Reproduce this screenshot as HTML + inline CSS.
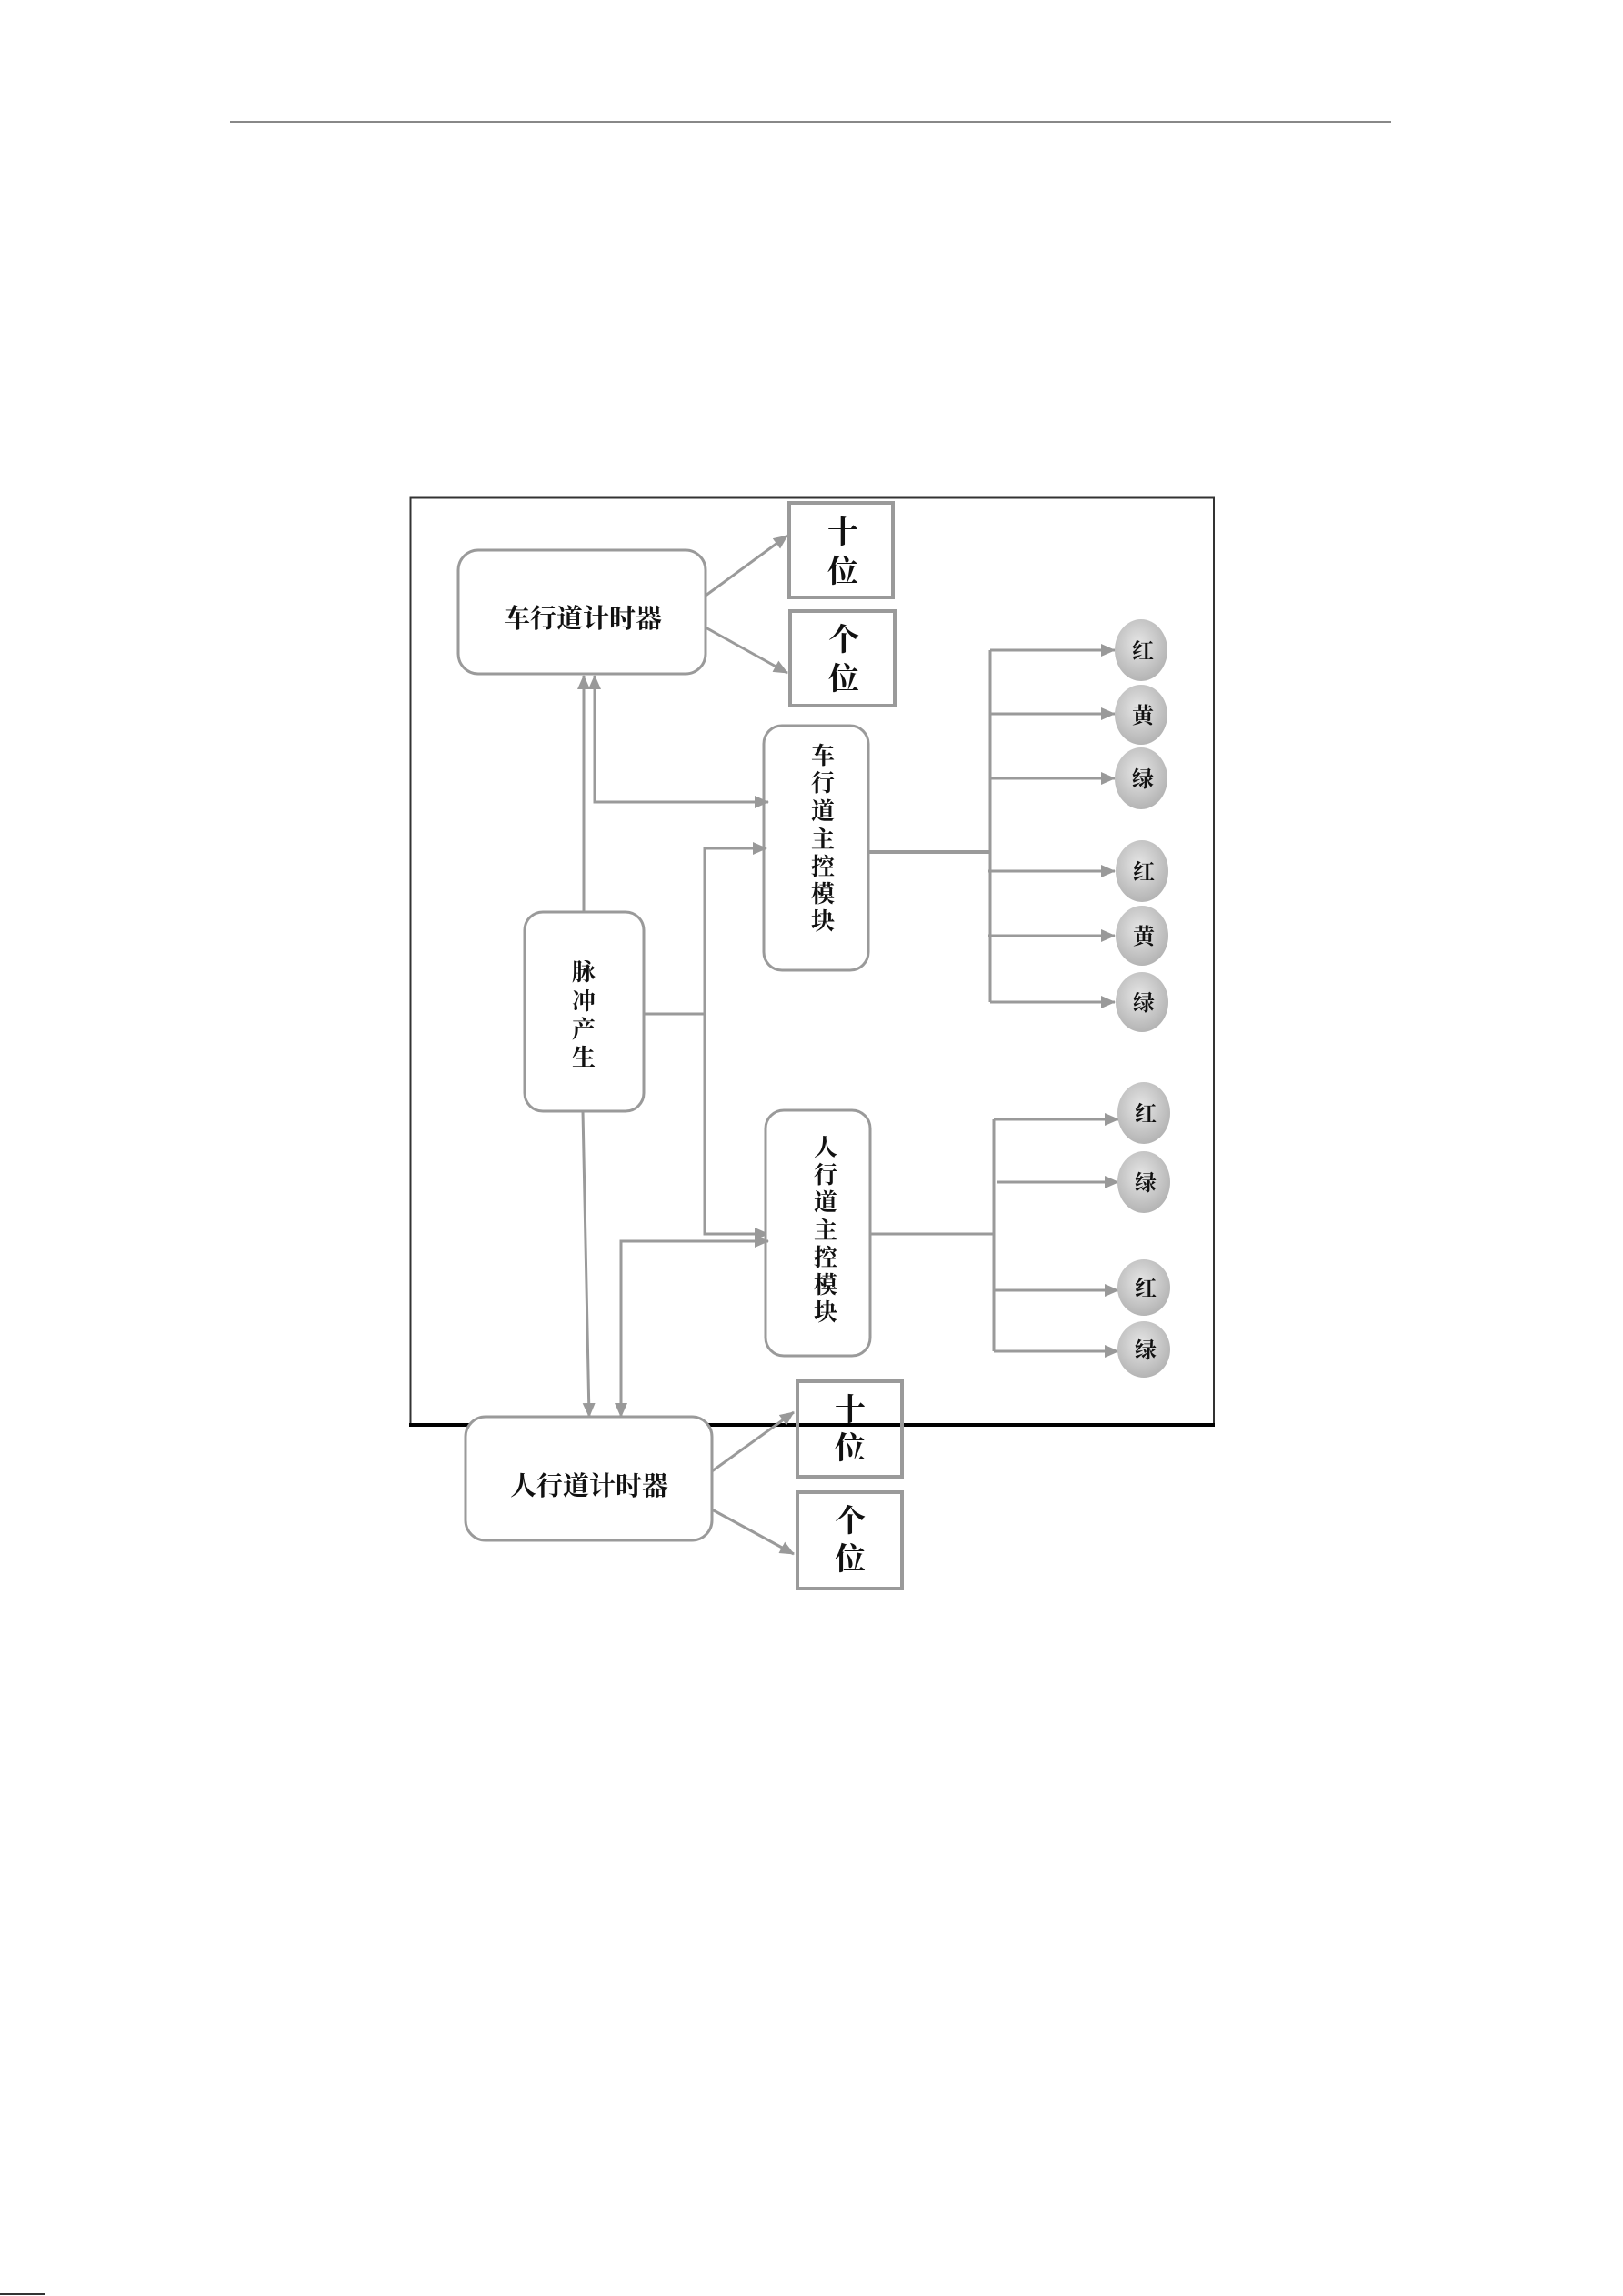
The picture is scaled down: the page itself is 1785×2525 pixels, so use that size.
<!DOCTYPE html>
<html><head><meta charset="utf-8"><style>
html,body{margin:0;padding:0;background:#fff;}
svg{display:block;}
text{font-family:"Liberation Serif","Noto Serif CJK SC",serif;font-weight:bold;fill:#111;}
</style></head><body>
<svg width="1785" height="2525" viewBox="0 0 1785 2525" xmlns="http://www.w3.org/2000/svg">
<defs>
<marker id="a" markerWidth="10" markerHeight="10" refX="9" refY="5" orient="auto" markerUnits="userSpaceOnUse" viewBox="0 0 10 10">
<path d="M0,0 L10,5 L0,10 z" fill="#999"/></marker>
<marker id="A" markerWidth="16" markerHeight="14" refX="15" refY="7" orient="auto" markerUnits="userSpaceOnUse" viewBox="0 0 16 14">
<path d="M0,0 L16,7 L0,14 z" fill="#999"/></marker>
<radialGradient id="g" cx="45%" cy="40%" r="60%"><stop offset="0" stop-color="#e6e6e6"/><stop offset="1" stop-color="#b4b4b4"/></radialGradient>
</defs>
<line x1="253" y1="134" x2="1530" y2="134" stroke="#888" stroke-width="2"/>
<line x1="0" y1="2523" x2="50" y2="2523" stroke="#333" stroke-width="2"/>
<!-- frame -->
<path d="M451.5,1568 L451.5,547.5 L1335,547.5 L1335,1568" fill="none" stroke="#333" stroke-width="2"/>
<line x1="450" y1="1567" x2="1336" y2="1567" stroke="#000" stroke-width="4"/>

<g fill="none" stroke="#9a9a9a" stroke-width="3">
<!-- top timer -->
<rect x="504" y="605" width="272" height="136" rx="22" fill="#fff"/>
<rect x="868" y="553" width="114" height="104" fill="#fff" stroke-width="4"/>
<rect x="869" y="672" width="115" height="104" fill="#fff" stroke-width="4"/>
<line x1="776" y1="655" x2="866" y2="589" marker-end="url(#A)"/>
<line x1="776" y1="690" x2="866" y2="740" marker-end="url(#A)"/>
<!-- car main -->
<rect x="840" y="798" width="115" height="269" rx="20" fill="#fff"/>
<!-- pulse -->
<rect x="577" y="1003" width="131" height="219" rx="20" fill="#fff"/>
<line x1="642" y1="1003" x2="642" y2="743" marker-end="url(#A)"/>
<polyline points="845,882 654,882 654,743" fill="none"/>
<line x1="654" y1="882" x2="654" y2="743" marker-end="url(#A)"/>
<line x1="800" y1="882" x2="845" y2="882" marker-end="url(#A)"/>
<polyline points="708,1115 775,1115 775,933 843,933" marker-end="url(#A)"/>
<polyline points="775,1115 775,1357 845,1357" marker-end="url(#A)"/>
<!-- ped main -->
<rect x="842" y="1221" width="115" height="270" rx="20" fill="#fff"/>
<polyline points="845,1365 683,1365 683,1558" marker-end="url(#A)"/>
<line x1="800" y1="1365" x2="845" y2="1365" marker-end="url(#A)"/>
<line x1="641" y1="1222" x2="648" y2="1558" marker-end="url(#A)"/>
<!-- ped timer -->
<rect x="512" y="1558" width="271" height="136" rx="22" fill="#fff"/>
<rect x="877" y="1519" width="115" height="105" fill="none" stroke-width="4"/>
<rect x="877" y="1641" width="115" height="106" fill="#fff" stroke-width="4"/>
<line x1="783" y1="1618" x2="873" y2="1553" marker-end="url(#A)"/>
<line x1="783" y1="1660" x2="873" y2="1709" marker-end="url(#A)"/>
<!-- car bus -->
<line x1="955" y1="937" x2="1089" y2="937" stroke-width="4"/>
<line x1="1089" y1="715" x2="1089" y2="1102"/>
<line x1="1089" y1="715" x2="1226" y2="715" marker-end="url(#A)"/>
<line x1="1089" y1="785" x2="1226" y2="785" marker-end="url(#A)"/>
<line x1="1089" y1="856" x2="1226" y2="856" marker-end="url(#A)"/>
<line x1="1087" y1="958" x2="1226" y2="958" marker-end="url(#A)"/>
<line x1="1087" y1="1029" x2="1226" y2="1029" marker-end="url(#A)"/>
<line x1="1089" y1="1102" x2="1226" y2="1102" marker-end="url(#A)"/>
<!-- ped bus -->
<line x1="957" y1="1357" x2="1093" y2="1357"/>
<line x1="1093" y1="1231" x2="1093" y2="1486"/>
<line x1="1093" y1="1231" x2="1230" y2="1231" marker-end="url(#A)"/>
<line x1="1097" y1="1300" x2="1230" y2="1300" marker-end="url(#A)"/>
<line x1="1093" y1="1419" x2="1230" y2="1419" marker-end="url(#A)"/>
<line x1="1093" y1="1486" x2="1230" y2="1486" marker-end="url(#A)"/>
</g>

<g fill="url(#g)">
<ellipse cx="1255" cy="715" rx="29" ry="34"/>
<ellipse cx="1255" cy="786" rx="29" ry="33"/>
<ellipse cx="1255" cy="856" rx="29" ry="34"/>
<ellipse cx="1256" cy="958" rx="29" ry="34"/>
<ellipse cx="1256" cy="1029" rx="29" ry="33"/>
<ellipse cx="1256" cy="1102" rx="29" ry="33"/>
<ellipse cx="1258" cy="1224" rx="29" ry="34"/>
<ellipse cx="1258" cy="1300" rx="29" ry="34"/>
<ellipse cx="1258" cy="1416" rx="29" ry="31"/>
<ellipse cx="1258" cy="1484" rx="29" ry="31"/>
</g>
<g font-size="24" text-anchor="middle">
<text x="1257" y="724">红</text>
<text x="1257" y="795">黄</text>
<text x="1257" y="865">绿</text>
<text x="1258" y="967">红</text>
<text x="1258" y="1038">黄</text>
<text x="1258" y="1111">绿</text>
<text x="1260" y="1233">红</text>
<text x="1260" y="1309">绿</text>
<text x="1260" y="1425">红</text>
<text x="1260" y="1493">绿</text>
</g>
<g font-size="29" text-anchor="middle">
<text x="641" y="690">车行道计时器</text>
<text x="648" y="1644">人行道计时器</text>
</g>
<g font-size="34" text-anchor="middle" font-weight="normal">
<text x="927" y="597">十</text><text x="927" y="640">位</text>
<text x="928" y="715">个</text><text x="928" y="758">位</text>
<text x="935" y="1562">十</text><text x="935" y="1604">位</text>
<text x="935" y="1684">个</text><text x="935" y="1726">位</text>
</g>
<g font-size="26" text-anchor="middle">
<text x="905" y="840">车</text><text x="905" y="870">行</text><text x="905" y="901">道</text><text x="905" y="932">主</text><text x="905" y="962">控</text><text x="905" y="992">模</text><text x="905" y="1022">块</text>
<text x="908" y="1271">人</text><text x="908" y="1301">行</text><text x="908" y="1331">道</text><text x="908" y="1362">主</text><text x="908" y="1392">控</text><text x="908" y="1422">模</text><text x="908" y="1452">块</text>
<text x="642" y="1078">脉</text><text x="642" y="1110">冲</text><text x="642" y="1141">产</text><text x="642" y="1172">生</text>
</g>
</svg>
</body></html>
